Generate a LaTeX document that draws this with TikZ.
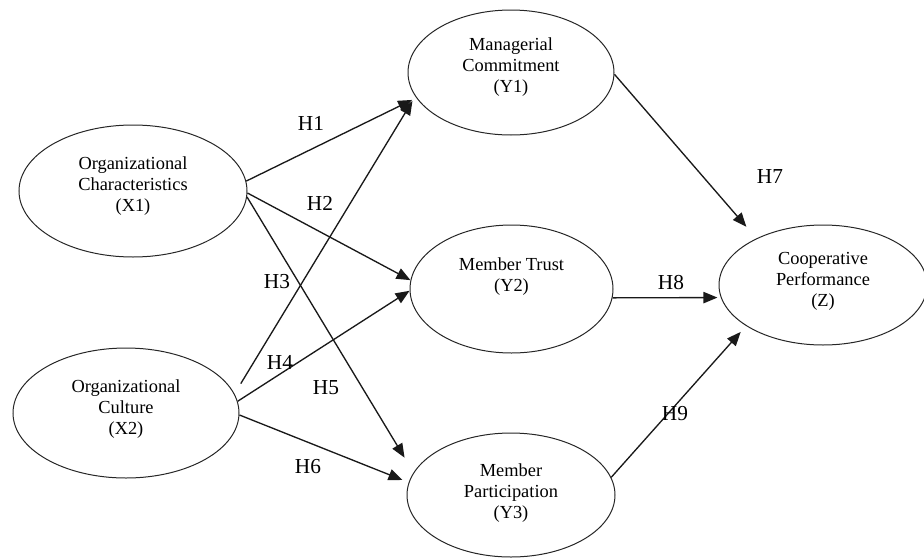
\documentclass[tikz,border=0pt]{standalone}
\usepackage{fontspec}
\setmainfont{Liberation Serif}
\usetikzlibrary{shapes.geometric,arrows.meta,calc}
\begin{document}
\begin{tikzpicture}[x=0.75pt,y=-0.75pt,
  latent/.style={draw=black!85,line width=0.75pt,ellipse,inner sep=0pt},
  lbl/.style={font=\fontsize{13.8}{15.75}\selectfont,align=center,inner sep=0pt},
  hyp/.style={font=\fontsize{16}{18}\selectfont,inner sep=0pt},
  hpath/.style={draw=black!90,line width=1pt,-{Triangle[length=10.5pt,width=8.5pt]}}]
\useasboundingbox (0,0) rectangle (924,557);
% ellipses
\node[latent,minimum width=171pt,minimum height=99pt] (X1) at (133,191) {};
\node[latent,minimum width=169.5pt,minimum height=97.5pt] (X2) at (126,413) {};
\node[latent,minimum width=154.5pt,minimum height=93.75pt] (Y1) at (511,72.5) {};
\node[latent,minimum width=152.25pt,minimum height=96pt] (Y2) at (511.5,289) {};
\node[latent,minimum width=156pt,minimum height=93pt] (Y3) at (511,495) {};
\node[latent,minimum width=156pt,minimum height=90pt] (Z) at (823,285) {};
% texts
\node[lbl] (X1t) at (133,186) {Organizational\\Characteristics\\(X1)};
\node[lbl] (X2t) at (126,409) {Organizational\\Culture\\(X2)};
\node[lbl] (Y1t) at (511,67.5) {Managerial\\Commitment\\(Y1)};
\node[lbl] (Y2t) at (511.5,276.5) {Member Trust\\(Y2)};
\node[lbl] (Y3t) at (511,493) {Member\\Participation\\(Y3)};
\node[lbl] (Zt) at (823,281) {Cooperative\\Performance\\(Z)};
% paths
\draw[hpath,shorten >=3.5pt] (X1.5.6) -- (Y1.195.5);
\draw[hpath] (X1.-1) -- (Y2.175);
\draw[hpath,shorten >=13pt] (X1.-3) -- (Y3.167);
\draw[hpath,shorten <=9pt,shorten >=4pt] (X2.10) -- (Y1.194);
\draw[hpath] (X2.6.7) -- (Y2.181);
\draw[hpath,shorten >=5pt] (X2.-1) -- (Y3.173);
\draw[hpath,shorten >=11.5pt] (Y1.-1) -- (Z.145);
\draw[hpath,shorten >=2.5pt] (Y2.-5.3) -- (Z.187.3);
\draw[hpath,shorten >=6pt] (Y3.10) -- (Z.208.5);
% hypothesis labels
\node[hyp] (H1) at (311,123) {H1};
\node[hyp] (H2) at (320,203) {H2};
\node[hyp] (H3) at (277,282) {H3};
\node[hyp] (H4) at (280,362) {H4};
\node[hyp] (H5) at (326,388) {H5};
\node[hyp] (H6) at (308,467) {H6};
\node[hyp] (H7) at (770,177) {H7};
\node[hyp] (H8) at (671,283) {H8};
\node[hyp] (H9) at (675,414) {H9};
\end{tikzpicture}
\end{document}
